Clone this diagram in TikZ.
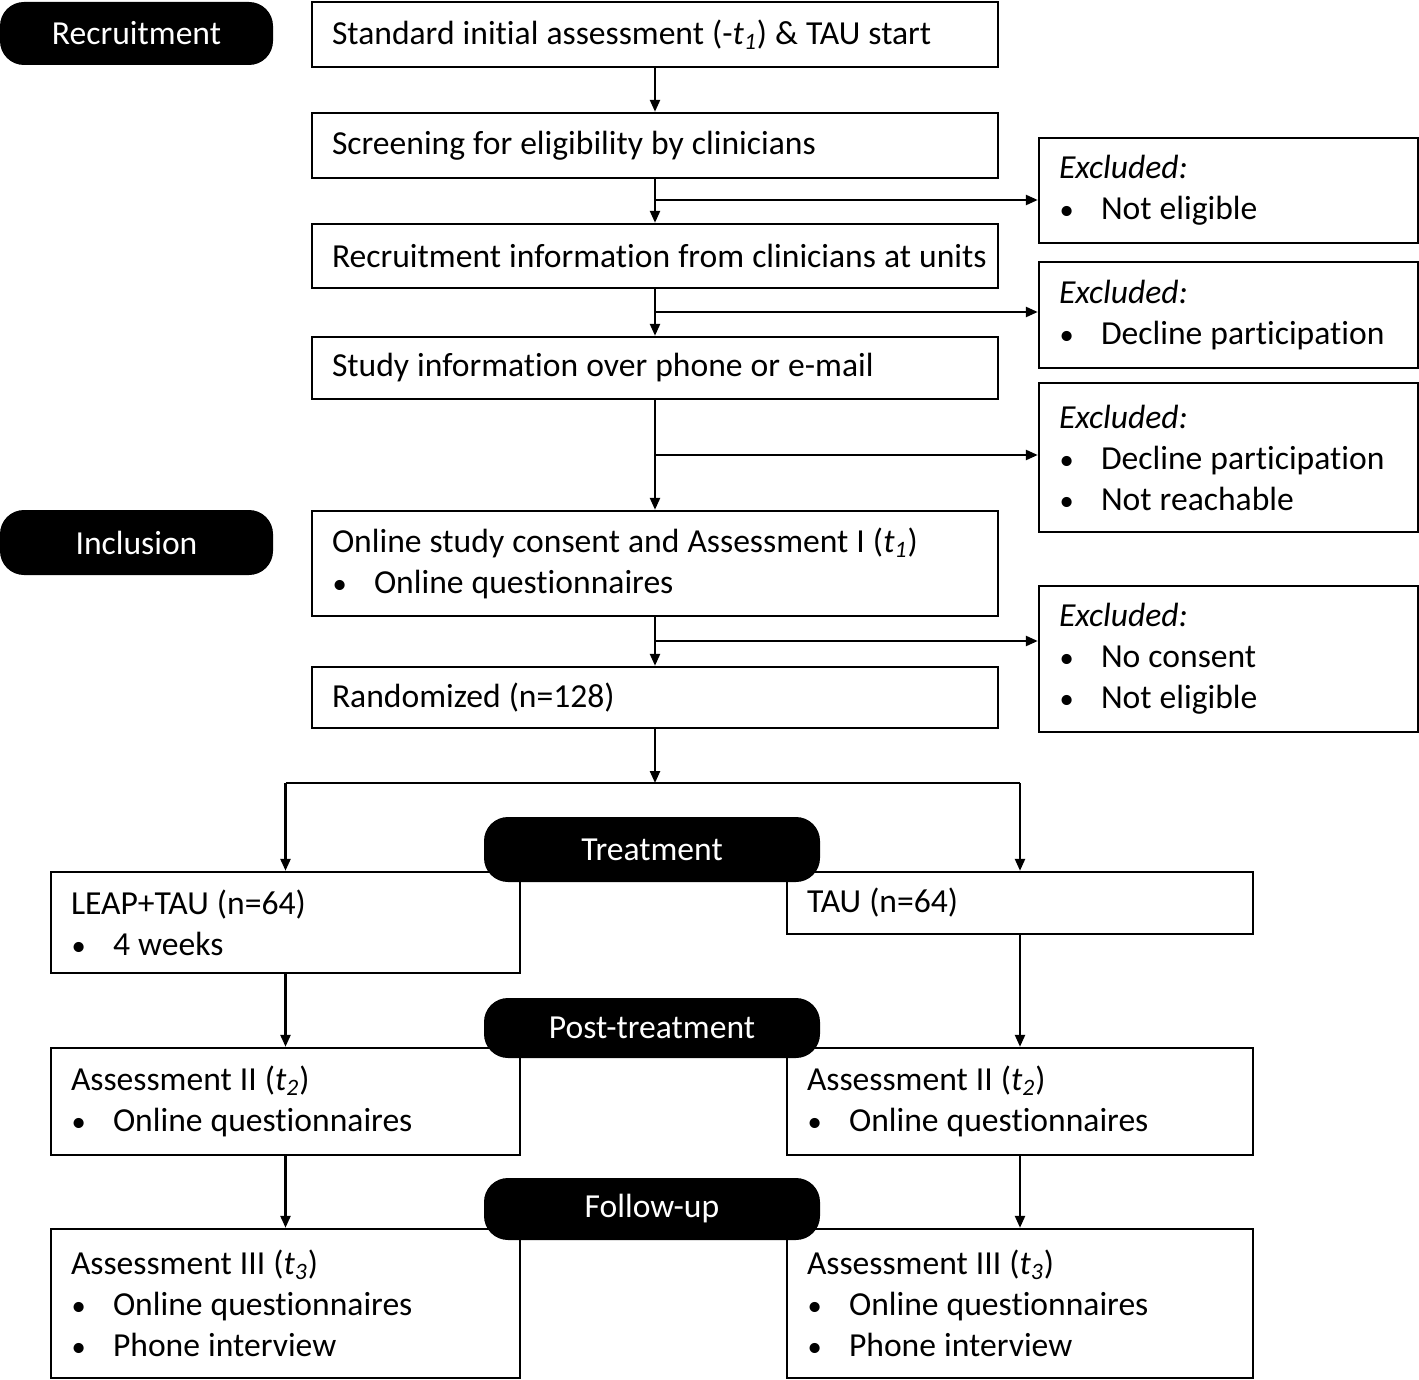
\documentclass[tikz,border=0pt]{standalone}
\usepackage{fontspec}
\setmainfont{Carlito}[Ligatures=NoCommon]
\usetikzlibrary{arrows.meta}
\newcommand\tsub[1]{\textit{t}\textsubscript{\textit{#1}}}
\newcommand\bul{\makebox[21pt][l]{\hspace{0.3pt}\scalebox{0.85}{\textbullet}}}
\begin{document}
\begin{tikzpicture}[x=0.5pt,y=-0.5pt,
  every node/.style={font=\fontsize{16.8pt}{20.5pt}\selectfont,
    execute at begin node={\spaceskip=0.24em\relax\xspaceskip=0.24em\relax}},
  box/.style={draw, fill=white, line width=1.2pt, inner xsep=10pt, inner ysep=0pt, align=left},
  pill/.style={fill=black, text=white, rounded corners=12pt, inner sep=0pt, align=center},
  conn/.style={line width=1.2pt},
  arr/.style={conn, -{Triangle[length=6pt,width=5pt]}}]
\useasboundingbox (0,0) rectangle (1419,1380);
% main column
\node[box, text width=323pt, minimum height=32.5pt] (b1) at (655,34.5) {Standard initial assessment (-\tsub{1}) \& TAU start};
\node[box, text width=323pt, minimum height=32.5pt] (b2) at (655,145.5) {Screening for eligibility by clinicians};
\node[box, text width=323pt, minimum height=32pt] (b3) at (655,256) {\mbox{Recruitment information from clinicians at units}};
\node[box, text width=323pt, minimum height=31pt] (b4) at (655,368) {Study information over phone or e-mail};
\node[box, text width=323pt, minimum height=52.5pt] (b5) at (655,563.5) {Online study consent and Assessment I (\tsub{1})\\\bul Online questionnaires};
\node[box, text width=323pt, minimum height=30.5pt] (b6) at (655,697.5) {Randomized (n=128)};
% excluded
\node[box, text width=169.5pt, minimum height=52.5pt] (e1) at (1228.5,190.5) {\textit{Excluded:}\\\bul Not eligible};
\node[box, text width=169.5pt, minimum height=53pt] (e2) at (1228.5,315) {\textit{Excluded:}\\\bul Decline participation};
\node[box, text width=169.5pt, minimum height=74.5pt] (e3) at (1228.5,457.5) {\textit{Excluded:}\\\bul Decline participation\\\bul Not reachable};
\node[box, text width=169.5pt, minimum height=73pt] (e4) at (1228.5,659) {\textit{Excluded:}\\\bul No consent\\\bul Not eligible};
% arms
\node[box, text width=214.5pt, minimum height=50.5pt] (leap) at (285.5,922.5) {LEAP+TAU (n=64)\\\bul 4 weeks};
\node[box, text width=213pt, minimum height=31pt] (tau) at (1020,903) {TAU (n=64)};
\node[box, text width=214.5pt, minimum height=53.5pt] (a2l) at (285.5,1101.5) {Assessment II (\tsub{2})\\\bul Online questionnaires};
\node[box, text width=213pt, minimum height=53.5pt] (a2r) at (1020,1101.5) {Assessment II (\tsub{2})\\\bul Online questionnaires};
\node[box, text width=214.5pt, minimum height=74.5pt] (a3l) at (285.5,1303.5) {Assessment III (\tsub{3})\\\bul Online questionnaires\\\bul Phone interview};
\node[box, text width=213pt, minimum height=74.5pt] (a3r) at (1020,1303.5) {Assessment III (\tsub{3})\\\bul Online questionnaires\\\bul Phone interview};
% junctions
\coordinate (j1) at (655,200);
\coordinate (j2) at (655,312);
\coordinate (j3) at (655,455);
\coordinate (j4) at (655,641);
\coordinate (jr) at (655,783);
\coordinate (jl) at (285.5,783);
\coordinate (jt) at (1020,783);
% connectors
\draw[arr] (b1) -- (b2);
\draw[arr] (b2) -- (b3);
\draw[arr] (b3) -- (b4);
\draw[arr] (b4) -- (b5);
\draw[arr] (b5) -- (b6);
\draw[arr] (j1) -- (j1 -| e1.west);
\draw[arr] (j2) -- (j2 -| e2.west);
\draw[arr] (j3) -- (j3 -| e3.west);
\draw[arr] (j4) -- (j4 -| e4.west);
\draw[arr] (b6) -- (jr);
\draw[conn] (jl) -- (jt);
\draw[arr] (jl) -- (leap);
\draw[arr] (jt) -- (tau);
\draw[arr] (leap) -- (a2l);
\draw[arr] (tau) -- (a2r);
\draw[arr] (a2l) -- (a3l);
\draw[arr] (a2r) -- (a3r);
% pills
\node[pill, minimum width=136.5pt, minimum height=31.5pt] (prec) at (136.5,33.5) {Recruitment};
\node[pill, minimum width=136.5pt, minimum height=32.5pt] (pinc) at (136.5,542.5) {Inclusion};
\node[pill, minimum width=168pt, minimum height=32.5pt] (ptreat) at (652,849.5) {Treatment};
\node[pill, minimum width=168pt, minimum height=30pt] (ppost) at (652,1028) {Post-treatment};
\node[pill, minimum width=168pt, minimum height=31pt] (pfol) at (652,1209) {Follow-up};
\end{tikzpicture}
\end{document}
